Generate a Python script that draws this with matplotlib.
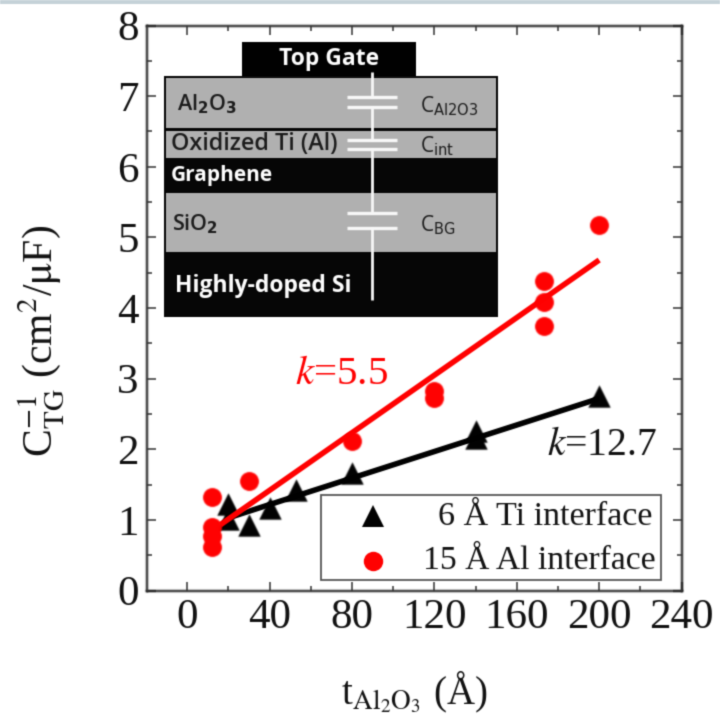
import matplotlib
matplotlib.use("Agg")
import matplotlib.pyplot as plt
import numpy as np
from matplotlib.patches import Rectangle
from matplotlib.lines import Line2D
from matplotlib.transforms import Affine2D

plt.rcParams['font.family'] = ['Liberation Serif', 'DejaVu Serif']
plt.rcParams['mathtext.fontset'] = 'stix'

# Data
ti_t = [20, 20, 30, 40, 53, 80, 140, 140, 200]
ti_c = [1.22, 1.02, 0.93, 1.17, 1.42, 1.67, 2.26, 2.16, 2.76]
al_t = [12, 12, 12, 12, 30, 80, 120, 120, 173, 173, 173, 200]
al_c = [1.32, 0.9, 0.77, 0.62, 1.55, 2.12, 2.83, 2.72, 4.38, 4.08, 3.75, 5.18]
ti_fit_t = [20, 200]
ti_fit_c = [1.03, 2.72]
al_fit_t = [16, 200]
al_fit_c = [0.93, 4.68]
x_ticks = [0, 40, 80, 120, 160, 200, 240]
y_ticks = [0, 1, 2, 3, 4, 5, 6, 7, 8]

W, H = 720, 727
INK = '#111111'
RED = '#ff0000'
fig = plt.figure(figsize=(W / 100, H / 100), dpi=100, facecolor='white')
px = Affine2D().scale(1, -1).translate(0, H)  # reference pixel coordinates

# top strip of the source picture
fig.add_artist(Rectangle((0, 0), W, 4, transform=px, fc='#c5d2d8', ec='none'))

L, R, T, B = 147, 682, 25.5, 590.6
ax = fig.add_axes([L / W, 1 - B / H, (R - L) / W, (B - T) / H])
ax.set_xlim(-19.5, 240.2)
ax.set_ylim(0, 8)
ax.set_xticks(x_ticks)
ax.set_yticks(y_ticks)
ax.set_xticks(range(20, 240, 40), minor=True)
ax.set_yticks([v + 0.5 for v in range(8)], minor=True)
ax.tick_params(which='major', direction='in', top=True, right=True, length=6.5, width=1.1,
               color='#333333', labelsize=31, labelcolor=INK, pad=6)
ax.tick_params(which='minor', direction='in', top=True, right=True, length=3.5, width=1.1, color='#333333')
for s in ax.spines.values():
    s.set_linewidth(1.7)
    s.set_color('#333333')

ax.plot(ti_fit_t, ti_fit_c, color='black', lw=4, solid_capstyle='butt', zorder=3)
ax.plot(al_fit_t, al_fit_c, color=RED, lw=4, solid_capstyle='butt', zorder=4)
ax.scatter(ti_t, ti_c, marker='^', s=260, color='black', lw=0, zorder=3)
ax.scatter(al_t, al_c, marker='o', s=185, color=RED, lw=0, zorder=4)

fig.text(295 / W, 1 - 374 / H, r'$\mathit{k}$=5.5', color=RED, fontsize=29.5, va='center', ha='left')
fig.text(547 / W, 1 - 445 / H, r'$\mathit{k}$=12.7', color=INK, fontsize=28.5, va='center', ha='left')

fig.text(41 / W, 1 - 341 / H, r'C$_{\mathrm{TG}}^{-1}$ (cm$^{2}$/$\mathrm{\mu}$F)', rotation=90,
         color=INK, fontsize=30, ha='center', va='center')
fig.text(414 / W, 1 - 692 / H, r't$_{\mathrm{Al_2O_3}}$ (Å)', color=INK, fontsize=28, ha='center', va='center')

# legend box
fig.add_artist(Rectangle((321, 495), 340, 85, transform=px, fc='white', ec='#555555', lw=1.3, zorder=5))
fig.add_artist(Line2D([373], [516], transform=px, marker='^', ms=16.5, color='black', mew=0, zorder=6))
fig.add_artist(Line2D([373], [561], transform=px, marker='o', ms=14, color=RED, mew=0, zorder=6))
fig.text(652 / W, 1 - 517 / H, '6 Å Ti interface', color=INK, fontsize=24.5, ha='right', va='center', zorder=6)
fig.text(656 / W, 1 - 561 / H, '15 Å Al interface', color=INK, fontsize=24.2, ha='right', va='center', zorder=6)

# device schematic inset
def rect(x0, y0, x1, y1, fc, ec='none', lw=0):
    fig.add_artist(Rectangle((x0, y0), x1 - x0, y1 - y0, transform=px, fc=fc, ec=ec, lw=lw, zorder=7))

GRAY = '#b2b2b2'
rect(242, 42, 416, 77, '#000000')
rect(164, 76, 498, 317, '#050505')
rect(166, 78, 496, 128, GRAY)
rect(166, 131, 496, 158, GRAY)
rect(166, 193, 496, 252, GRAY)

def wire(xs, ys, lw):
    fig.add_artist(Line2D(xs, ys, transform=px, color='#f8f8f8', lw=lw, solid_capstyle='butt', zorder=8))

for y0, y1 in [(72, 97), (107, 140), (149, 213), (228, 300)]:
    wire([372, 372], [y0, y1], 2.0)
for y in [97, 107, 140, 149, 213, 228]:
    wire([347, 397], [y, y], 2.4)

SANS = ['Open Sans', 'DejaVu Sans']
def label(x, y, s, color='#1c1c1c', size=16.5, weight='semibold'):
    fig.text(x / W, 1 - y / H, s, family=SANS, color=color, fontsize=size, fontweight=weight,
             ha='left', va='center', zorder=9, math_fontfamily='dejavusans')

label(279, 59, 'Top Gate', 'white', 16.5, 'bold')
label(177, 104, r'Al$_{\mathbf{2}}$O$_{\mathbf{3}}$', size=15.5)
label(171, 144, 'Oxidized Ti (Al)', size=16.8)
label(171, 176, 'Graphene', 'white', 15, 'bold')
label(172, 224, r'SiO$_{\mathbf{2}}$', size=15.5)
label(175, 286, 'Highly-doped Si', 'white', 16.5, 'bold')
label(420, 106, r'C$_{\mathrm{Al2O3}}$', size=15, weight='normal')
label(420, 146, r'C$_{\mathrm{int}}$', size=15, weight='normal')
label(420, 225, r'C$_{\mathrm{BG}}$', size=15, weight='normal')

# the source picture is soft: a slight blur on every drawn artist
def soften(image, dpi):
    pad = 2
    a = np.pad(image, ((pad, pad), (pad, pad), (0, 0)), mode='constant')
    a[..., :3] *= a[..., 3:]
    k = np.array([1, 4, 1], float) / 6
    for axis in (0, 1):
        a = np.apply_along_axis(lambda v: np.convolve(v, k, mode='same'), axis, a)
    rgb = a[..., :3] / np.maximum(a[..., 3:], 1e-6)
    a[..., :3] = np.clip(rgb, 0, 1)
    return a, -pad, -pad

fig.canvas.draw()
for art in fig.findobj(lambda o: isinstance(o, (plt.Text, Line2D, Rectangle, matplotlib.collections.PathCollection))
                       or isinstance(o, matplotlib.spines.Spine)):
    if art is fig.patch or art is ax.patch:
        continue
    art.set_agg_filter(soften)

fig.savefig('out.png', dpi=100)
